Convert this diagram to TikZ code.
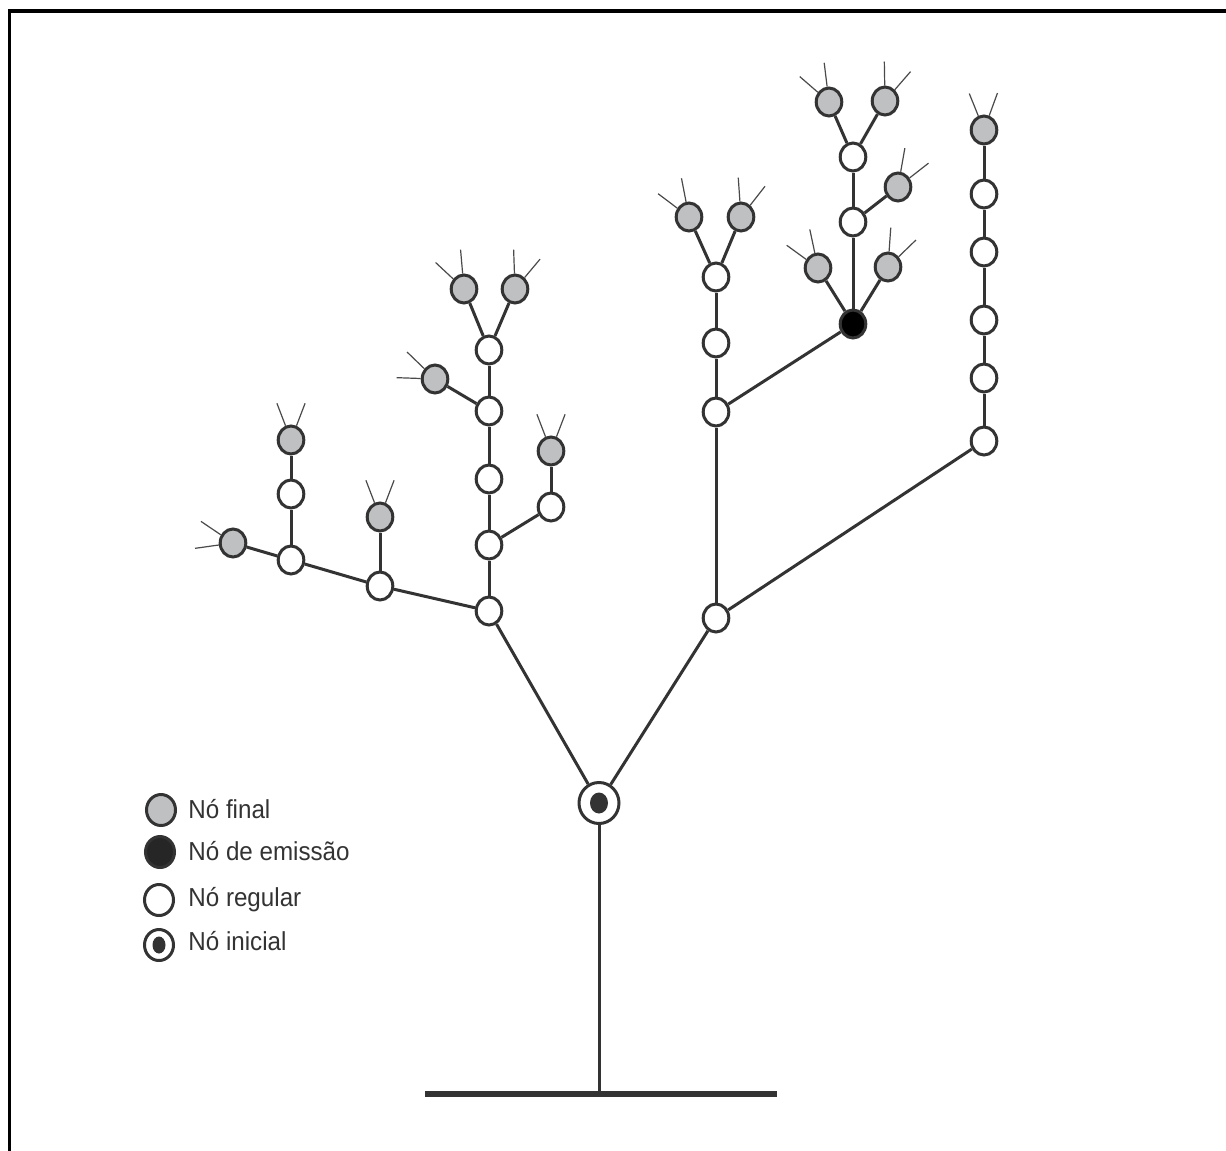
\documentclass[tikz,border=0pt]{standalone}
\usepackage{fontspec}
\newfontfamily\legendfont[FakeStretch=0.93]{Liberation Sans}
\usetikzlibrary{shapes.geometric}
\definecolor{ink}{HTML}{333333}
\definecolor{finalgrey}{HTML}{BFC0C2}
\definecolor{antennagrey}{HTML}{4A4A4A}
\tikzset{
  nodebase/.style={ellipse, draw=ink, line width=1.5pt, inner sep=0pt,
    minimum width=12.8pt, minimum height=14pt},
  regular/.style={nodebase, fill=white},
  terminal/.style={nodebase, fill=finalgrey},
  emitter/.style={nodebase, fill=black},
  branch/.style={draw=ink, line width=1.5pt},
  antenna/.style={draw=antennagrey, line width=0.6pt},
  legendtext/.style={anchor=base west, inner sep=0pt,
    font=\legendfont\fontsize{13}{15}\selectfont, text=ink}
}
% two thin feelers on a final node, fanned around direction #2
\newcommand\antennae[2]{%
  \pgfmathtruncatemacro\angA{#2+21}%
  \pgfmathtruncatemacro\angB{#2-21}%
  \draw[antenna] (#1.\angA) -- ++(\angA:12pt);
  \draw[antenna] (#1.\angB) -- ++(\angB:12pt);
}
\begin{document}
\begin{tikzpicture}[x=0.5pt,y=-0.5pt]
\useasboundingbox (0,0) rectangle (1226,1151);
\fill[white] (0,0) rectangle (1226,1151);
\draw[line width=1.8pt, black] (9.5,1151) -- (9.5,11) -- (1226,11);

% initial node
\node[ellipse, draw=ink, fill=white, line width=1.5pt, inner sep=0pt,
  minimum width=20pt, minimum height=20.5pt] (init) at (599,803) {};
\node[ellipse, fill=ink, inner sep=0pt, minimum width=9pt, minimum height=10.5pt] (initdot) at (init) {};

% left branch
\node[regular] (l0) at (489,611) {};
\node[regular] (l1) at (380,586) {};
\node[regular] (l2) at (291,560) {};
\node[terminal] (f1) at (233,543) {};
\node[regular] (l2a) at (291,494) {};
\node[terminal] (f2) at (291,440) {};
\node[terminal] (f3) at (380,517) {};
\node[regular] (m1) at (489,545) {};
\node[regular] (m2) at (489,479) {};
\node[regular] (m3) at (489,411) {};
\node[regular] (m4) at (489,350) {};
\node[regular] (s1) at (551,507) {};
\node[terminal] (f4) at (551,451) {};
\node[terminal] (f5) at (435,379) {};
\node[terminal] (f6) at (464,289) {};
\node[terminal] (f7) at (515,289) {};

% right branch
\node[regular] (r0) at (716,618) {};
\node[regular] (c1) at (716,412) {};
\node[regular] (c2) at (716,343) {};
\node[regular] (c3) at (716,277) {};
\node[terminal] (f8) at (689,217) {};
\node[terminal] (f9) at (741,217) {};
\node[emitter] (em) at (853,324) {};
\node[terminal] (f10) at (818,268) {};
\node[terminal] (f11) at (888,267) {};
\node[regular] (e1) at (853,222) {};
\node[regular] (e2) at (853,157) {};
\node[terminal] (f12) at (898,187) {};
\node[terminal] (f13) at (829,102) {};
\node[terminal] (f14) at (885,101) {};
\node[regular] (k0) at (984,441) {};
\node[regular] (k1) at (984,378) {};
\node[regular] (k2) at (984,320) {};
\node[regular] (k3) at (984,252) {};
\node[regular] (k4) at (984,194) {};
\node[terminal] (f15) at (984,130) {};

% connections
\foreach \a/\b in {init/l0, init/r0, l0/l1, l1/l2, l2/f1, l2/l2a, l2a/f2, l1/f3,
  l0/m1, m1/m2, m2/m3, m3/m4, m1/s1, s1/f4, m3/f5, m4/f6, m4/f7,
  r0/c1, c1/c2, c2/c3, c3/f8, c3/f9, c1/em, em/f10, em/f11, em/e1, e1/e2,
  e1/f12, e2/f13, e2/f14, r0/k0, k0/k1, k1/k2, k2/k3, k3/k4, k4/f15}
  \draw[branch] (\a) -- (\b);

% trunk and ground
\coordinate (base) at (599,1093.5);
\coordinate (gl) at (425,1093.5);
\coordinate (gr) at (777,1093.5);
\draw[branch] (init) -- (base);
\draw[ink, line width=3pt] (gl) -- (gr);

% feelers on the final nodes
\antennae{f1}{167}
\antennae{f2}{90}
\antennae{f3}{90}
\antennae{f4}{90}
\antennae{f5}{157}
\antennae{f6}{116}
\antennae{f7}{71}
\antennae{f8}{122}
\antennae{f9}{73}
\antennae{f10}{123}
\antennae{f11}{65}
\antennae{f12}{59}
\antennae{f13}{118}
\antennae{f14}{70}
\antennae{f15}{91}

% legend
\node[terminal, minimum width=14.5pt, minimum height=15.5pt] (kfin) at (161,810) {};
\node[nodebase, fill=ink!75!black, minimum width=14.5pt, minimum height=15.5pt] (kemi) at (160,852) {};
\node[regular, minimum width=14.5pt, minimum height=15.5pt] (kreg) at (159,900) {};
\node[regular, minimum width=14.5pt, minimum height=15.5pt] (kini) at (159,945) {};
\node[ellipse, fill=ink, inner sep=0pt, minimum width=6.5pt, minimum height=8.5pt] (kinidot) at (kini) {};
\node[legendtext] (tfin) at (188,818) {Nó final};
\node[legendtext] (temi) at (188,860) {Nó de emissão};
\node[legendtext] (treg) at (188,906) {Nó regular};
\node[legendtext] (tini) at (188,950) {Nó inicial};
\end{tikzpicture}
\end{document}
